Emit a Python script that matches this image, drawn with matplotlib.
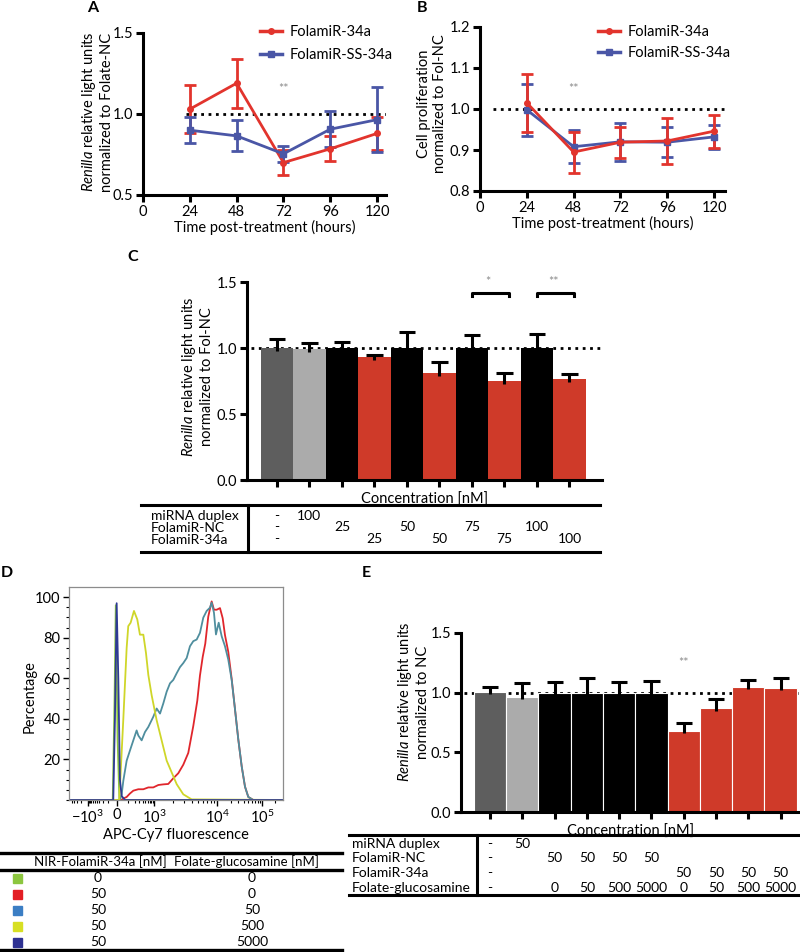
'''
plot_folamir
-----------------------------------------------------------
five panel figure: FolamiR-34a time course, proliferation,
dose response, folate receptor competition.
'''
# load packages -------------------------------------------
import numpy as np
import matplotlib.pyplot as plt
from matplotlib.lines import Line2D
from matplotlib.patches import Rectangle
from matplotlib.transforms import blended_transform_factory

# data ----------------------------------------------------
# panel A, B: time course
hours = [24, 48, 72, 96, 120]
a_34a = [1.03, 1.19, 0.70, 0.785, 0.88]
a_34a_err = [0.15, 0.15, 0.075, 0.077, 0.10]
a_ss = [0.90, 0.865, 0.754, 0.906, 0.965]
a_ss_err = [0.08, 0.095, 0.05, 0.11, 0.20]

b_34a = [1.015, 0.895, 0.919, 0.922, 0.946]
b_34a_err = [0.07, 0.05, 0.038, 0.055, 0.04]
b_ss = [0.998, 0.908, 0.92, 0.919, 0.932]
b_ss_err = [0.063, 0.04, 0.047, 0.037, 0.03]

# panel C: dose response
c_means = [1.0, 0.99, 1.0, 0.93, 1.0, 0.81, 1.0, 0.75, 1.0, 0.764]
c_err = [0.07, 0.05, 0.045, 0.015, 0.12, 0.086, 0.10, 0.06, 0.105, 0.042]
c_groups = ['neg', 'duplex', 'nc', '34a', 'nc', '34a', 'nc', '34a', 'nc', '34a']
c_rows = ['miRNA duplex', 'FolamiR-NC', 'FolamiR-34a']
c_table = [
    ['-', '100', '', '', '', '', '', '', '', ''],
    ['-', '', '25', '', '50', '', '75', '', '100', ''],
    ['-', '', '', '25', '', '50', '', '75', '', '100'],
]
c_sig = [(6, 7, '*'), (8, 9, '**')]

# panel D: flow cytometry histograms (APC-Cy7 value, % of max)
d_x_green = [-7000, -45, -25, -12, 5, 20, 3e5]
d_y_green = [0, 0, 50, 96, 30, 0, 0]
d_x_red = [-7000, 39, 54, 87, 126, 175, 273, 418, 630, 944, 1175, 1407,
           1688, 2028, 2436, 2922, 3505, 4210, 4870, 5373, 5933, 6520,
           7270, 8230, 8955, 9890, 11660, 13380, 15050, 17820, 21200,
           25100, 29720, 35380, 41880, 49600, 64050, 3e5]
d_y_red = [0, 0, 0.7, 1.5, 3.2, 4.6, 5.3, 5.3, 6.2, 6.2, 7.4, 7.7,
           7.9, 10.7, 13.2, 17.4, 23.2, 36.5, 48.9, 61.4, 70.5, 77.1,
           90.4, 97.9, 93.8, 93.8, 94.6, 89.6, 81.3, 73, 59.7,
           44.8, 29.9, 16.6, 6.6, 1.5, 0, 0]
d_x_teal = [-7000, 24.5, 39, 54, 87, 126, 175, 236, 273, 363, 479, 630,
            944, 1104, 1248, 1407, 1592, 1797, 2028, 2296, 2589, 2922,
            3307, 3729, 4210, 4765, 5373, 6065, 6860, 7735, 8230, 8955,
            9630, 10910, 12720, 15050, 17820, 21200, 25100, 29720, 35380,
            41880, 49600, 64050, 3e5]
d_y_teal = [0, 0, 2.8, 9.5, 19.4, 24.4, 29.4, 34.3, 31.8, 29.4, 33.5, 36,
            41, 45.1, 42.6, 47.6, 53.4, 57.5, 59.2, 62.5, 65.5, 67.5,
            70, 75.8, 78.3, 79.1, 82.4, 89.9, 93.2, 94.8, 97.3, 92.3,
            81.6, 87.4, 80.7, 75.8, 69.2, 59.2, 44.8, 29.9, 16.6,
            6.6, 1.5, 0, 0]
d_x_yellow = [-7000, 19, 54, 87, 105, 135, 186, 250, 314, 418, 520, 630,
              827, 1104, 1327, 1592, 1912, 2296, 2922, 3967, 3e5]
d_y_yellow = [0, 0, 40, 75, 85.7, 87.4, 93.2, 89, 81.5, 81.5, 72.5, 61.7,
              51.7, 39.3, 29.3, 19.4, 13.6, 7.8, 2.8, 0.3, 0]
d_x_navy = [-7000, -39, -21, -3, 11, 24.5, 39, 69.5, 3e5]
d_y_navy = [0, 0, 40, 97, 60, 10, 2, 0, 0]
d_nir = ['0', '50', '50', '50', '50']
d_fg = ['0', '0', '50', '500', '5000']

# panel E: competition
e_means = [1.008, 0.966, 1.0, 1.0, 1.0, 1.0, 0.68, 0.87, 1.05, 1.042]
e_err = [0.037, 0.118, 0.09, 0.125, 0.09, 0.10, 0.062, 0.08, 0.056, 0.078]
e_groups = ['neg', 'duplex', 'nc', 'nc', 'nc', 'nc', '34a', '34a', '34a', '34a']
e_rows = ['miRNA duplex', 'FolamiR-NC', 'FolamiR-34a', 'Folate-glucosamine']
e_table = [
    ['-', '50', '', '', '', '', '', '', '', ''],
    ['-', '', '50', '50', '50', '50', '', '', '', ''],
    ['-', '', '', '', '', '', '50', '50', '50', '50'],
    ['-', '', '0', '50', '500', '5000', '0', '50', '500', '5000'],
]

# styles --------------------------------------------------
red = '#e2342d'
blue = '#4a56a6'
bar_red = '#cf3a29'
group_colors = {'neg': '#5e5e5e', 'duplex': '#ababab', 'nc': 'black', '34a': bar_red}
hist_colors = {'green': '#8cc63f', 'red': '#e0262c', 'teal': '#4f8e9e',
               'yellow': '#cfd629', 'navy': '#2e3a94'}
key_colors = ['#8cc63f', '#e31e24', '#3b7ec4', '#d7df23', '#2e3192']

plt.rcParams['font.family'] = ['Lato', 'DejaVu Sans']
plt.rcParams['mathtext.fontset'] = 'custom'
plt.rcParams['mathtext.rm'] = 'Lato'
plt.rcParams['mathtext.it'] = 'Lato:italic'
plt.rcParams['font.size'] = 10.5

W, H = 800, 952
fig = plt.figure(figsize=(8, 9.52), dpi=100)


def fx(px):
    return px / W


def fy(py):
    return 1 - py / H


def box(l, t, r, b):
    return fig.add_axes([fx(l), fy(b), (r - l) / W, (b - t) / H])


def hline(x0, x1, y, lw=2.2):
    fig.add_artist(Line2D([fx(x0), fx(x1)], [fy(y), fy(y)],
                          transform=fig.transFigure, color='k', lw=lw))


def vline(x, y0, y1, lw=2.2):
    fig.add_artist(Line2D([fx(x), fx(x)], [fy(y0), fy(y1)],
                          transform=fig.transFigure, color='k', lw=lw))


def style_axis(ax):
    for s in ['top', 'right']:
        ax.spines[s].set_visible(False)
    for s in ['left', 'bottom']:
        ax.spines[s].set_linewidth(2.2)
    ax.tick_params(width=2.2, length=5, direction='out', labelsize=10.5, pad=2)


def line_panel(ax, s1, e1, s2, e2, red_on_top):
    kw = dict(lw=2, capsize=4, capthick=2, elinewidth=2, ms=4)
    order = [(s1, e1, red, 'o'), (s2, e2, blue, 's')]
    if red_on_top:
        order = order[::-1]
    for s, e, c, m in order:
        ax.errorbar(hours, s, yerr=e, color=c, marker=m, **kw)
    style_axis(ax)
    ax.set_xticks([0, 24, 48, 72, 96, 120])
    ax.set_xlabel('Time post-treatment (hours)', labelpad=1)
    handles = [Line2D([], [], color=red, marker='o', ms=4, lw=2.5),
               Line2D([], [], color=blue, marker='s', ms=4, lw=2.5)]
    return handles


def bar_panel(ax, means, errs, groups, edge):
    x = np.arange(len(means))
    ax.plot([-0.8, x[-1] + 1], [1, 1], ':', color='k', lw=2, zorder=1)
    ax.bar(x, means, width=1.0, color=[group_colors[g] for g in groups],
           edgecolor=edge, lw=0.8 if edge == 'white' else 0, zorder=2)
    top = np.array(means) + np.array(errs)
    ax.vlines(x, np.array(means) - 0.02, top, color='k', lw=2.2, zorder=3)
    ax.hlines(top, x - 0.25, x + 0.25, color='k', lw=2.2, zorder=3)
    style_axis(ax)
    ax.set_xticks(x)
    ax.set_xticklabels([])
    ax.set_ylim(0, 1.5)
    ax.set_yticks([0, 0.5, 1.0, 1.5])
    ax.set_yticklabels(['0.0', '0.5', '1.0', '1.5'])
    ax.set_xlabel('Concentration [nM]', labelpad=2)


def table_values(ax, rows, ys):
    tr = blended_transform_factory(ax.transData, fig.transFigure)
    for row, y in zip(rows, ys):
        for i, v in enumerate(row):
            ax.text(i, fy(y), v, transform=tr, ha='center', va='center',
                    fontsize=10, clip_on=False)


# panel A -------------------------------------------------
ax = box(143, 33, 386, 195)
handles = line_panel(ax, a_34a, a_34a_err, a_ss, a_ss_err, red_on_top=False)
ax.plot([22, 124.6], [1, 1], ':', color='k', lw=2, zorder=0)
ax.set_xlim(0, 124.6)
ax.set_ylim(0.5, 1.5)
ax.set_yticks([0.5, 1.0, 1.5])
ax.set_yticklabels(['0.5', '1.0', '1.5'])
ax.text(72, 1.157, '**', color='#8a8a8a', ha='center', va='center', fontsize=9)
ax.legend(handles, ['FolamiR-34a', 'FolamiR-SS-34a'], loc='upper left',
          bbox_to_anchor=(fx(260), fy(25)), bbox_transform=fig.transFigure,
          frameon=False, handlelength=1.5, handletextpad=0.5,
          labelspacing=0.6, borderaxespad=0, borderpad=0)
fig.text(fx(97), fy(112), '$\\mathit{Renilla}$ relative light units\n'
         'normalized to Folate-NC', rotation=90, ha='center', va='center',
         linespacing=1.1)

# panel B -------------------------------------------------
ax = box(480, 27, 725, 191)
handles = line_panel(ax, b_34a, b_34a_err, b_ss, b_ss_err, red_on_top=True)
ax.plot([6.6, 125.6], [1, 1], ':', color='k', lw=2, zorder=0)
ax.set_xlim(0, 125.6)
ax.set_ylim(0.8, 1.2)
ax.set_yticks([0.8, 0.9, 1.0, 1.1, 1.2])
ax.set_yticklabels(['0.8', '0.9', '1.0', '1.1', '1.2'])
ax.text(48, 1.049, '**', color='#8a8a8a', ha='center', va='center', fontsize=9)
ax.legend(handles, ['FolamiR-34a', 'FolamiR-SS-34a'], loc='upper left',
          bbox_to_anchor=(fx(598), fy(25)), bbox_transform=fig.transFigure,
          frameon=False, handlelength=1.5, handletextpad=0.5,
          labelspacing=0.5, borderaxespad=0, borderpad=0)
fig.text(fx(432), fy(104), 'Cell proliferation\nnormalized to Fol-NC',
         rotation=90, ha='center', va='center', linespacing=1.1)

# panel C -------------------------------------------------
ax = box(247, 282, 602, 480)
bar_panel(ax, c_means, c_err, c_groups, edge='none')
ax.set_xlim(-0.92, 10.0)
for i, j, label in c_sig:
    ax.plot([i, i, j + 0.15, j + 0.15], [1.395, 1.417, 1.417, 1.395],
            color='k', lw=2.2, clip_on=False)
    ax.text((i + j) / 2, 1.5, label, color='#8a8a8a', ha='center',
            va='center', fontsize=9, clip_on=False)
fig.text(fx(197), fy(377), '$\\mathit{Renilla}$ relative light units\n'
         'normalized to Fol-NC', rotation=90, ha='center', va='center',
         linespacing=1.1)
hline(141, 600, 505)
hline(141, 600, 552)
vline(248, 505, 552)
for label, y in zip(c_rows, [516, 528, 540]):
    fig.text(fx(151), fy(y), label, ha='left', va='center', fontsize=10)
table_values(ax, c_table, [516, 527, 539])

# panel D -------------------------------------------------
U = [-12, -5.0, -2.998, 0, 2.998, 5.298, 7.601, 8.7, 14]
P = [0.8, 68.5, 88, 117, 154, 217, 262, 283, 386.6]


def fwd(v):
    return np.interp(np.arcsinh(np.asarray(v, dtype=float) / 100), U, P)


def inv(p):
    return 100 * np.sinh(np.interp(np.asarray(p, dtype=float), P, U))


ax = box(69, 587, 283, 800)
ax.set_xscale('function', functions=(fwd, inv))
curves = [(d_x_green, d_y_green, 'green'), (d_x_red, d_y_red, 'red'),
          (d_x_teal, d_y_teal, 'teal'), (d_x_yellow, d_y_yellow, 'yellow'),
          (d_x_navy, d_y_navy, 'navy')]
for xs, ys, key in curves:
    ax.plot(xs, ys, color=hist_colors[key], lw=1.3)
ax.set_xlim(-7000, 3.0e5)
ax.set_ylim(0, 105)
for s in ax.spines.values():
    s.set_color('#8c8c8c')
    s.set_linewidth(0.9)
ax.set_xticks([-1000, 0, 1000, 1e4, 1e5])
ax.set_xticklabels(['$-10^3$', '0', '$10^3$', '$10^4$', '$10^5$'])
minor_x = ([-5000, -4000, -3000, -2000] + list(range(-900, 0, 100))
           + list(range(100, 1000, 100)) + list(range(2000, 10000, 1000))
           + list(range(20000, 100000, 10000)) + [2e5])
ax.set_xticks(minor_x, minor=True)
ax.set_yticks([20, 40, 60, 80, 100])
ax.set_yticks(np.arange(0, 105, 5), minor=True)
ax.tick_params(length=4, width=1, labelsize=10.5, pad=2)
ax.tick_params(which='minor', length=2.5, width=0.8)
ax.set_xlabel('APC-Cy7 fluorescence', labelpad=2)
fig.text(fx(30), fy(697), 'Percentage', rotation=90, ha='center', va='center')
hline(0, 342, 853, lw=2.4)
hline(0, 342, 870, lw=2.4)
hline(0, 342, 950, lw=2.4)
fig.text(fx(100), fy(861.5), 'NIR-FolamiR-34a [nM]', ha='center', va='center',
         fontsize=9.5)
fig.text(fx(246), fy(861.5), 'Folate-glucosamine [nM]', ha='center',
         va='center', fontsize=9.5)
for i, y in enumerate([878, 894, 910, 926, 942]):
    fig.add_artist(Rectangle((fx(12.5), fy(y + 4.5)), 9 / W, 9 / H,
                             transform=fig.transFigure, color=key_colors[i]))
    fig.text(fx(98), fy(y), d_nir[i], ha='center', va='center', fontsize=10)
    fig.text(fx(252), fy(y), d_fg[i], ha='center', va='center', fontsize=10)

# panel E -------------------------------------------------
ax = box(461, 633, 800, 812)
bar_panel(ax, e_means, e_err, e_groups, edge='white')
ax.set_xlim(-0.9, 9.6)
ax.text(6, 1.25, '**', color='#8a8a8a', ha='center', va='center', fontsize=9)
fig.text(fx(413), fy(702), '$\\mathit{Renilla}$ relative light units\n'
         'normalized to NC', rotation=90, ha='center', va='center',
         linespacing=1.1)
hline(349, 800, 835)
hline(349, 800, 895)
vline(477, 835, 895)
for label, y in zip(e_rows, [844, 858, 873, 888]):
    fig.text(fx(352), fy(y), label, ha='left', va='center', fontsize=10)
table_values(ax, e_table, [844, 858, 873, 888])

# panel letters -------------------------------------------
for label, x, y in [('A', 93, 8), ('B', 422, 8), ('C', 133, 257),
                    ('D', 7, 573), ('E', 366, 573)]:
    fig.text(fx(x), fy(y), label, ha='center', va='center', fontsize=11.5,
             fontweight='bold')

# save ----------------------------------------------------
fig.savefig('out.png', dpi=100)
